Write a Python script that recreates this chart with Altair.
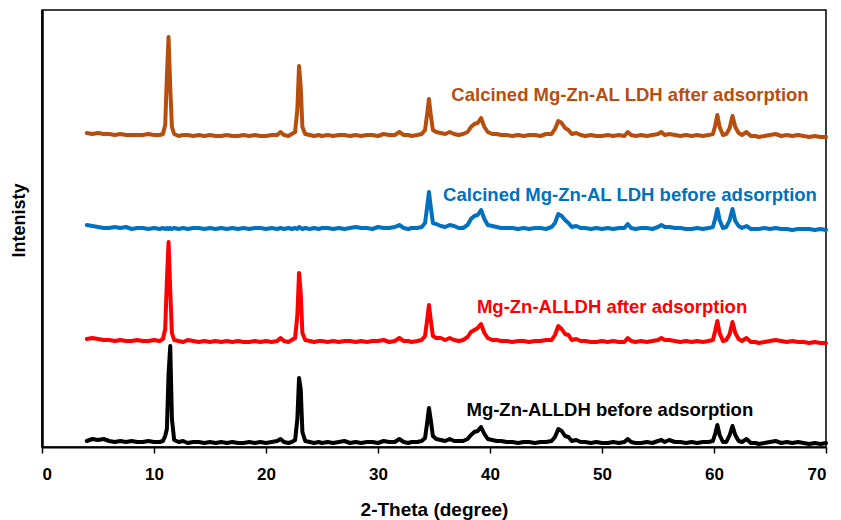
import altair as alt
import pandas as pd

# 2-Theta grid (degrees)
TWO_THETA = [
    4.0, 4.5, 5.0, 5.5, 6.0, 6.5, 7.0, 7.5, 8.0, 8.5,
    9.0, 9.5, 10.0, 10.5, 10.8, 11.0, 11.15, 11.3, 11.45, 11.6,
    11.8, 12.2, 12.6, 13.0, 13.5, 14.0, 14.5, 15.0, 15.5, 16.0,
    16.5, 17.0, 17.5, 18.0, 18.5, 19.0, 19.5, 20.0, 20.5, 21.0,
    21.3, 21.6, 22.0, 22.3, 22.6, 22.8, 22.95, 23.1, 23.25, 23.5,
    23.9, 24.3, 24.7, 25.0, 25.5, 26.0, 26.5, 27.0, 27.5, 28.0,
    28.5, 29.0, 29.5, 30.0, 30.5, 31.0, 31.5, 31.9, 32.3, 32.7,
    33.0, 33.5, 33.9, 34.2, 34.4, 34.55, 34.7, 34.9, 35.2, 35.6,
    36.0, 36.4, 36.8, 37.2, 37.6, 38.0, 38.3, 38.6, 38.9, 39.2,
    39.5, 39.8, 40.2, 40.6, 41.0, 41.5, 42.0, 42.5, 43.0, 43.5,
    44.0, 44.5, 45.0, 45.5, 45.8, 46.1, 46.4, 46.7, 47.0, 47.3,
    47.7, 48.1, 48.5, 49.0, 49.5, 50.0, 50.5, 51.0, 51.5, 52.0,
    52.3, 52.6, 53.0, 53.5, 54.0, 54.5, 55.0, 55.3, 55.6, 56.0,
    56.5, 57.0, 57.5, 58.0, 58.5, 59.0, 59.5, 59.9, 60.1, 60.3,
    60.5, 60.8, 61.1, 61.4, 61.65, 61.9, 62.2, 62.5, 62.9, 63.3,
    63.7, 64.0, 64.5, 65.0, 65.5, 66.0, 66.5, 67.0, 67.5, 68.0,
    68.5, 69.0, 69.5, 70.0,
]

SERIES = [
    "Mg-Zn-ALLDH before adsorption",
    "Mg-Zn-ALLDH after adsorption",
    "Calcined Mg-Zn-AL LDH before adsorption",
    "Calcined Mg-Zn-AL LDH after adsorption",
]
COLORS = ["#000000", "#FF0000", "#0070C0", "#B84E0E"]
OFFSETS = [3, 104, 217, 310]

BEFORE = [
    3, 5, 4, 5, 3, 2, 3, 2, 3, 2,
    2, 3, 2, 2, 3, 8, 15, 70, 98, 25,
    4, 2, 3, 1, 2, 2, 1, 2, 1, 2,
    1, 2, 1, 1, 2, 1, 2, 1, 2, 3,
    5, 2, 1, 2, 4, 25, 66, 55, 12, 3,
    2, 1, 2, 1, 2, 1, 2, 3, 1, 2,
    1, 2, 2, 1, 3, 2, 2, 5, 2, 1,
    2, 2, 3, 6, 22, 36, 25, 8, 5, 4,
    3, 5, 3, 3, 3, 5, 9, 12, 13, 17,
    10, 5, 4, 3, 3, 2, 2, 1, 2, 2,
    1, 2, 2, 3, 7, 15, 13, 8, 7, 3,
    4, 2, 2, 1, 2, 1, 1, 2, 1, 2,
    5, 2, 1, 1, 2, 1, 3, 4, 2, 4,
    2, 2, 1, 2, 1, 2, 2, 3, 10, 19,
    9, 2, 2, 9, 18, 9, 3, 2, 5, 1,
    1, 0, 1, 2, 3, 1, 2, 1, 2, 1,
    0, 1, 0, 1,
]
AFTER = [
    4, 5, 4, 3, 3, 2, 3, 2, 2, 3,
    2, 2, 3, 2, 4, 14, 62, 101, 52, 10,
    3, 2, 1, 3, 2, 1, 2, 1, 2, 1,
    2, 1, 2, 1, 1, 2, 1, 2, 1, 2,
    5, 2, 1, 3, 5, 28, 70, 50, 10, 3,
    2, 1, 2, 2, 1, 2, 1, 2, 2, 1,
    2, 1, 2, 2, 3, 1, 2, 5, 2, 2,
    1, 2, 3, 7, 24, 38, 24, 7, 5, 5,
    3, 5, 3, 2, 3, 6, 11, 13, 15, 19,
    10, 5, 3, 3, 2, 2, 1, 2, 2, 1,
    2, 2, 3, 3, 8, 17, 14, 9, 8, 3,
    4, 2, 2, 1, 1, 2, 1, 2, 1, 1,
    5, 2, 1, 2, 1, 2, 3, 5, 3, 3,
    2, 1, 2, 1, 2, 1, 2, 3, 12, 22,
    10, 2, 3, 9, 21, 10, 4, 2, 5, 1,
    1, 0, 1, 2, 3, 2, 1, 2, 1, 1,
    0, 1, 0, 0,
]
CALC_BEFORE = [
    5, 4, 3, 2, 2, 3, 2, 3, 1, 2,
    2, 1, 2, 1, 2, 1, 2, 1, 2, 1,
    2, 1, 2, 1, 2, 2, 1, 2, 1, 2,
    1, 2, 1, 2, 1, 2, 2, 1, 2, 1,
    2, 1, 2, 1, 2, 1, 3, 2, 1, 2,
    1, 2, 1, 2, 2, 1, 2, 1, 2, 3,
    2, 2, 1, 3, 2, 2, 3, 5, 2, 1,
    2, 2, 3, 7, 24, 38, 24, 7, 6, 4,
    3, 5, 4, 2, 2, 5, 11, 14, 15, 20,
    11, 5, 4, 3, 2, 2, 2, 1, 2, 1,
    2, 2, 1, 3, 7, 16, 14, 10, 7, 3,
    4, 2, 2, 1, 2, 1, 2, 1, 2, 2,
    6, 2, 1, 2, 2, 1, 3, 5, 3, 3,
    2, 2, 1, 1, 2, 1, 2, 3, 11, 21,
    10, 2, 3, 10, 21, 9, 4, 2, 4, 1,
    1, 1, 2, 1, 2, 1, 1, 0, 1, 1,
    1, 0, 1, 0,
]
CALC_AFTER = [
    4, 3, 4, 3, 3, 2, 3, 2, 2, 2,
    2, 3, 2, 2, 3, 12, 60, 100, 50, 10,
    3, 1, 2, 2, 1, 2, 1, 2, 1, 1,
    2, 1, 1, 2, 1, 2, 1, 1, 2, 2,
    5, 2, 1, 3, 5, 28, 71, 50, 10, 3,
    2, 1, 2, 1, 2, 1, 2, 2, 1, 2,
    1, 2, 2, 1, 3, 2, 2, 5, 2, 2,
    1, 2, 3, 7, 24, 38, 23, 7, 5, 4,
    3, 5, 3, 2, 3, 5, 10, 13, 14, 19,
    10, 5, 3, 3, 2, 2, 1, 2, 1, 2,
    2, 1, 3, 3, 8, 16, 14, 9, 7, 3,
    4, 2, 1, 2, 1, 1, 2, 1, 2, 1,
    5, 2, 1, 2, 1, 2, 3, 5, 2, 3,
    2, 1, 2, 1, 2, 1, 2, 3, 11, 22,
    10, 2, 3, 9, 21, 10, 4, 2, 5, 1,
    1, 0, 1, 2, 3, 1, 2, 1, 2, 1,
    0, 1, 0, 0,
]
INTENSITIES = [BEFORE, AFTER, CALC_BEFORE, CALC_AFTER]

# label anchor (2-Theta, stacked intensity)
LABEL_X = [50.7, 50.9, 52.5, 52.5]
LABEL_Y = [37, 140, 252, 352]

for s, vals in zip(SERIES, INTENSITIES):
    if len(vals) != len(TWO_THETA):
        raise ValueError(f"{s}: {len(vals)} values vs {len(TWO_THETA)} angles")

rows = []
for s, off, vals in zip(SERIES, OFFSETS, INTENSITIES):
    for i, (x, v) in enumerate(zip(TWO_THETA, vals)):
        rows.append({"series": s, "theta": x, "intensity": v + off, "order": i})
df = pd.DataFrame(rows)
labels = pd.DataFrame({"series": SERIES, "x": LABEL_X, "y": LABEL_Y})

color = alt.Color("series:N", scale=alt.Scale(domain=SERIES, range=COLORS), legend=None)
SANS = "'Liberation Sans', Arial, sans-serif"

xscale = alt.Scale(domain=[0, 70], nice=False, zero=False)
yscale = alt.Scale(domain=[0, 437], nice=False, zero=False)

lines = alt.Chart(df).mark_line(strokeWidth=4, strokeJoin="round", strokeCap="round").encode(
    x=alt.X("theta:Q", scale=xscale,
            axis=alt.Axis(values=[0, 10, 20, 30, 40, 50, 60, 70], format="d", grid=False,
                          title="2-Theta (degree)", titleFont=SANS, titleFontSize=19,
                          titleFontWeight="bold", titleColor="black", titleBaseline="middle",
                          titleY=62, labelFont=SANS, labelFontSize=17, labelFontWeight="bold",
                          labelColor="black", labelPadding=13, tickColor="black", tickWidth=1.5,
                          tickSize=6, domainColor="black", domainWidth=2)),
    y=alt.Y("intensity:Q", scale=yscale,
            axis=alt.Axis(labels=False, ticks=False, grid=False, title="Intenisty",
                          titleFont=SANS, titleFontSize=18, titleFontWeight="bold",
                          titleColor="black", titleBaseline="middle", titleAlign="center",
                          titleX=-23, titleY=210, titleAngle=270, domainColor="black",
                          domainWidth=2.5)),
    color=color,
    detail="series:N",
    order="order:Q",
)

text = alt.Chart(labels).mark_text(font=SANS, fontSize=18.5, fontWeight="bold",
                                    align="center", baseline="middle").encode(
    x=alt.X("x:Q", scale=xscale),
    y=alt.Y("y:Q", scale=yscale),
    text="series:N",
    color=color,
)

chart = alt.layer(lines, text).properties(
    width=784, height=437,
    background="white",
    autosize=alt.AutoSizeParams(type="none"),
    padding={"left": 34, "top": 2, "right": 7, "bottom": 73},
).configure_view(stroke="black", strokeWidth=1.5)

chart.save("out.html", embed_options={"renderer": "svg", "actions": False})
